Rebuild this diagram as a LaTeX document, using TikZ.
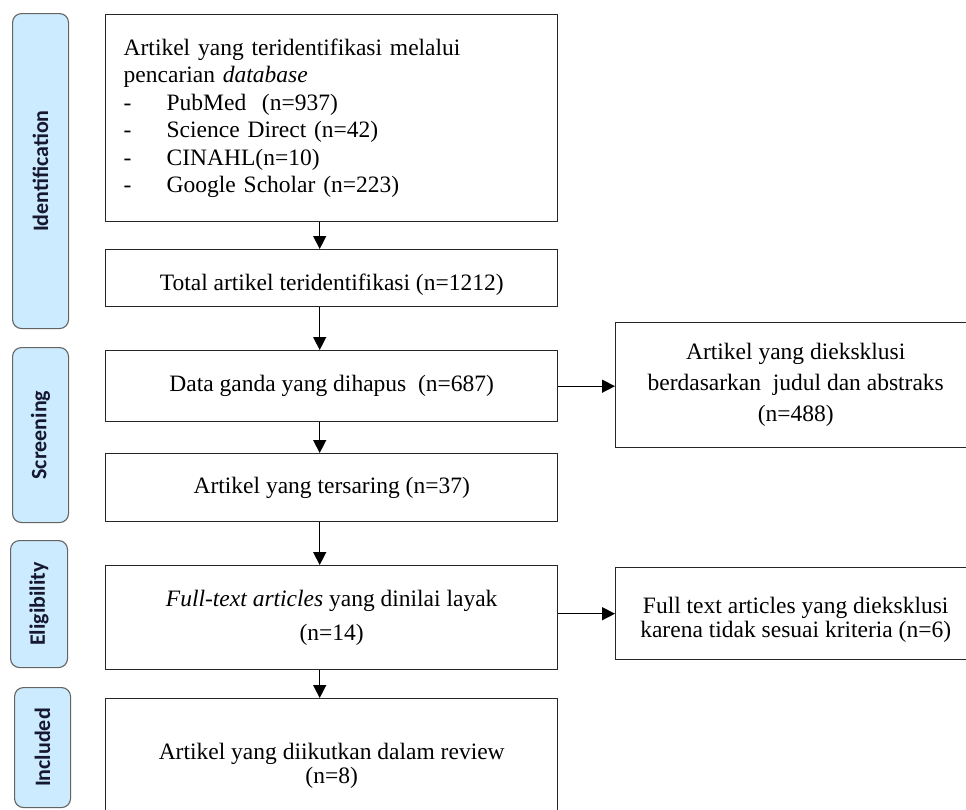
\documentclass[tikz,border=0pt]{standalone}
\usepackage{fontspec}
\setmainfont{Liberation Serif}
\newfontfamily\sidefont{Carlito}
\usetikzlibrary{arrows.meta,calc}
\definecolor{sideblue}{RGB}{204,235,255}
\definecolor{sidegray}{RGB}{100,100,100}
\definecolor{sidetext}{RGB}{22,24,48}
\tikzset{
  box/.style={draw=black!85, line width=1.4pt, fill=white, inner sep=0pt, anchor=north west, align=center},
  sidebox/.style={draw=sidegray, fill=sideblue, rounded corners=9pt, line width=1.1pt, inner sep=0pt, anchor=north west},
  sidelab/.style={rotate=90, font=\sidefont\bfseries\fontsize{22}{26}\selectfont, text=sidetext, inner sep=0pt},
  arr/.style={-{Triangle[length=13pt,width=13pt]}, line width=1.4pt, draw=black}
}
\begin{document}
\begin{tikzpicture}[x=1pt,y=-1pt, font=\fontsize{23.5}{27.5}\selectfont]
\useasboundingbox (0,0) rectangle (966,809);
\clip (0,0) rectangle (966,809);
\fill[white] (0,0) rectangle (966,809);

% side labels
\node[sidebox, minimum width=56pt, minimum height=315pt] (sid) at (12,13) {};
\node[sidelab] (tid) at (sid.center) {Identification};
\node[sidebox, minimum width=56pt, minimum height=175pt] (ssc) at (12,347) {};
\node[sidelab] (tsc) at (ssc.center) {Screening};
\node[sidebox, minimum width=57pt, minimum height=127pt] (sel) at (10,540) {};
\node[sidelab] (tel) at (sel.center) {Eligibility};
\node[sidebox, minimum width=56pt, minimum height=120pt] (sin) at (14,687) {};
\node[sidelab] (tin) at (sin.center) {Included};

% main boxes
\node[box, minimum width=452pt, minimum height=207pt, text width=416pt, align=left] (b1) at (105,14) {%
Artikel yang teridentifikasi melalui\\
pencarian \textit{database}\\
\makebox[43pt][l]{-}PubMed\ \ (n=937)\\
\makebox[43pt][l]{-}Science Direct (n=42)\\
\makebox[43pt][l]{-}CINAHL(n=10)\\
\makebox[43pt][l]{-}Google Scholar (n=223)};

\node[box, minimum width=452pt, minimum height=57pt] (b2) at (105,249) {\raisebox{-6pt}[17pt][5pt]{Total artikel teridentifikasi (n=1212)}};

\node[box, minimum width=452pt, minimum height=71pt] (b3) at (105,350) {Data ganda yang dihapus\ \ (n=687)};

\node[box, minimum width=452pt, minimum height=68pt] (b4) at (105,453) {Artikel yang tersaring (n=37)};

\node[box, minimum width=452pt, minimum height=104pt, font=\fontsize{23.5}{34}\selectfont] (b5) at (105,565) {\textit{Full-text articles} yang dinilai layak\\(n=14)};

\node[box, minimum width=452pt, minimum height=134pt, font=\fontsize{23.5}{24}\selectfont] (b6) at (105,698) {Artikel yang diikutkan dalam review\\(n=8)};

% right boxes
\node[box, minimum width=360pt, minimum height=125pt, font=\fontsize{23.5}{31}\selectfont] (r1) at (615,322) {Artikel yang dieksklusi\\berdasarkan\ \ judul dan abstraks\\(n=488)};

\node[box, minimum width=360pt, minimum height=92pt, font=\fontsize{23.5}{24}\selectfont] (r2) at (615,567) {\rule{0pt}{29pt}Full text articles yang dieksklusi\\karena tidak sesuai kriteria (n=6)};

% arrows
\draw[arr] ([xshift=-12pt]b1.south) -- ([xshift=-12pt]b2.north);
\draw[arr] ([xshift=-12pt]b2.south) -- ([xshift=-12pt]b3.north);
\draw[arr] ([xshift=-12pt]b3.south) -- ([xshift=-12pt]b4.north);
\draw[arr] ([xshift=-12pt]b4.south) -- ([xshift=-12pt]b5.north);
\draw[arr] ([xshift=-12pt]b5.south) -- ([xshift=-12pt]b6.north);
\draw[arr] (b3.east) -- (r1.west |- b3.east);
\draw[arr] (b5.east |- r2.west) -- (r2.west);
\end{tikzpicture}
\end{document}
